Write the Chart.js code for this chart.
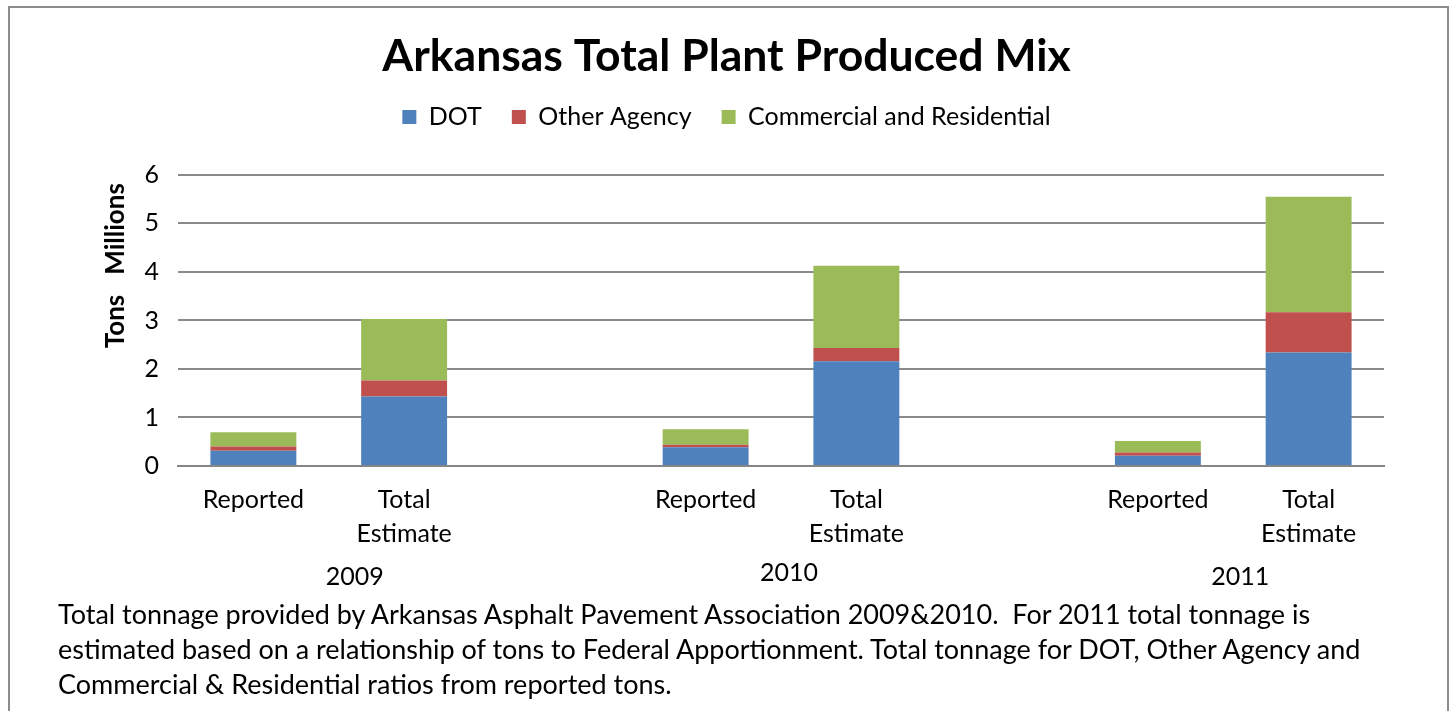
<!DOCTYPE html>
<html>
<head>
<meta charset="utf-8">
<script src="https://cdn.jsdelivr.net/npm/chart.js@4.4.1/dist/chart.umd.min.js"></script>
<style>
  html, body { margin: 0; padding: 0; background: #fff; overflow: hidden; }
  #frame { position: absolute; left: 8px; top: 6px; width: 1437px; height: 730px; border: 2px solid #8c8c8c; }
  #wrap { position: absolute; left: 0; top: 0; width: 1453px; height: 711px; }
  #note { position: absolute; left: 58px; top: 596px; font: 27px Lato, sans-serif; line-height: 35px; color: #000; white-space: nowrap; }
</style>
</head>
<body>
<div id="frame"></div>
<div id="wrap"><canvas id="mixChart"></canvas></div>
<div id="note">
  Total tonnage provided by Arkansas Asphalt Pavement Association 2009&amp;2010.&nbsp; For 2011 total tonnage is<br>
  estimated based on a relationship of tons to Federal Apportionment. Total tonnage for DOT, Other Agency and<br>
  Commercial &amp; Residential ratios from reported tons.
</div>
<script>
// categories: Reported / Total Estimate per year, with an empty slot between years
const categories = ['Reported', ['Total', 'Estimate'], '', 'Reported', ['Total', 'Estimate'], '', 'Reported', ['Total', 'Estimate']];
const years = ['2009', '2010', '2011'];

// values in millions of tons
const dotTons = [0.315, 1.43, null, 0.385, 2.16, null, 0.21, 2.34];
const otherAgencyTons = [0.085, 0.33, null, 0.055, 0.27, null, 0.07, 0.83];
const commercialTons = [0.295, 1.27, null, 0.32, 1.70, null, 0.235, 2.38];

const yTicks = [0, 1, 2, 3, 4, 5, 6];

const FONT = 'Lato';

// year labels under each pair of bars + the "Tons / Millions" axis text
const extraText = {
  id: 'extraText',
  afterDraw(chart) {
    const ctx = chart.ctx;
    const x = chart.scales.x;
    const area = chart.chartArea;
    ctx.save();
    ctx.fillStyle = '#000';
    ctx.textAlign = 'center';
    ctx.textBaseline = 'middle';
    ctx.font = '25px ' + FONT;
    const nudge = [26, 8, 7];
    const lift = [0, -4, 0];
    years.forEach((yr, g) => {
      const mid = (x.getPixelForValue(g * 3) + x.getPixelForValue(g * 3 + 1)) / 2;
      ctx.fillText(yr, mid + nudge[g], 577 + lift[g]);
    });

    ctx.font = 'bold 26px ' + FONT;
    ctx.translate(116, 0);
    ctx.rotate(-Math.PI / 2);
    ctx.fillText('Tons', -(area.top + area.bottom) / 2 - 1, 0);
    ctx.fillText('Millions', -(area.top + 54), 0);
    ctx.restore();
  }
};

const data = {
  labels: categories,
  datasets: [
    { label: 'DOT', data: dotTons, backgroundColor: '#4F81BD' },
    { label: 'Other Agency', data: otherAgencyTons, backgroundColor: '#C0504D' },
    { label: 'Commercial and Residential', data: commercialTons, backgroundColor: '#9BBB59' }
  ]
};

const config = {
  type: 'bar',
  data: data,
  options: {
    responsive: true,
    maintainAspectRatio: false,
    animation: false,
    datasets: {
      bar: { categoryPercentage: 1, barPercentage: 0.57 }
    },
    scales: {
      x: {
        stacked: true,
        grid: { display: false, drawTicks: false },
        border: { display: true, color: '#868686', width: 2 },
        ticks: {
          color: '#000',
          padding: 17,
          maxRotation: 0,
          autoSkip: false,
          font: { family: FONT, size: 25, lineHeight: 1.36 }
        },
        afterFit(scale) { scale.height = 245; }
      },
      y: {
        stacked: true,
        min: 0,
        max: 6,
        afterBuildTicks(scale) { scale.ticks = yTicks.map(v => ({ value: v })); },
        grid: { color: '#8a8a8a', lineWidth: 2, drawTicks: false },
        border: { display: false },
        ticks: {
          color: '#000',
          padding: 19,
          font: { family: FONT, size: 25 }
        },
        afterFit(scale) { scale.width = 178; }
      },
      // blank right-hand axis, only reserves the empty margin right of the plot
      yPad: {
        type: 'linear',
        position: 'right',
        grid: { display: false },
        border: { display: false },
        ticks: { display: false },
        afterFit(scale) { scale.width = 69; }
      }
    },
    plugins: {
      title: {
        display: true,
        text: 'Arkansas Total Plant Produced Mix',
        color: '#000',
        font: { family: FONT, size: 44.5, weight: 'bold', lineHeight: 1.2 },
        padding: { top: 30, bottom: -9 }
      },
      legend: {
        display: true,
        labels: {
          color: '#000',
          boxWidth: 14,
          boxHeight: 14,
          padding: 30,
          font: { family: FONT, size: 25 }
        }
      },
      // empty subtitle used only as a spacer between legend and plot
      subtitle: {
        display: true,
        text: '',
        weight: 500,
        font: { size: 1, lineHeight: 1 },
        padding: { top: 34.5, bottom: 0 }
      },
      tooltip: { enabled: false }
    }
  },
  plugins: [extraText]
};

const ctx = document.getElementById('mixChart').getContext('2d');
new Chart(ctx, config);
</script>
</body>
</html>
